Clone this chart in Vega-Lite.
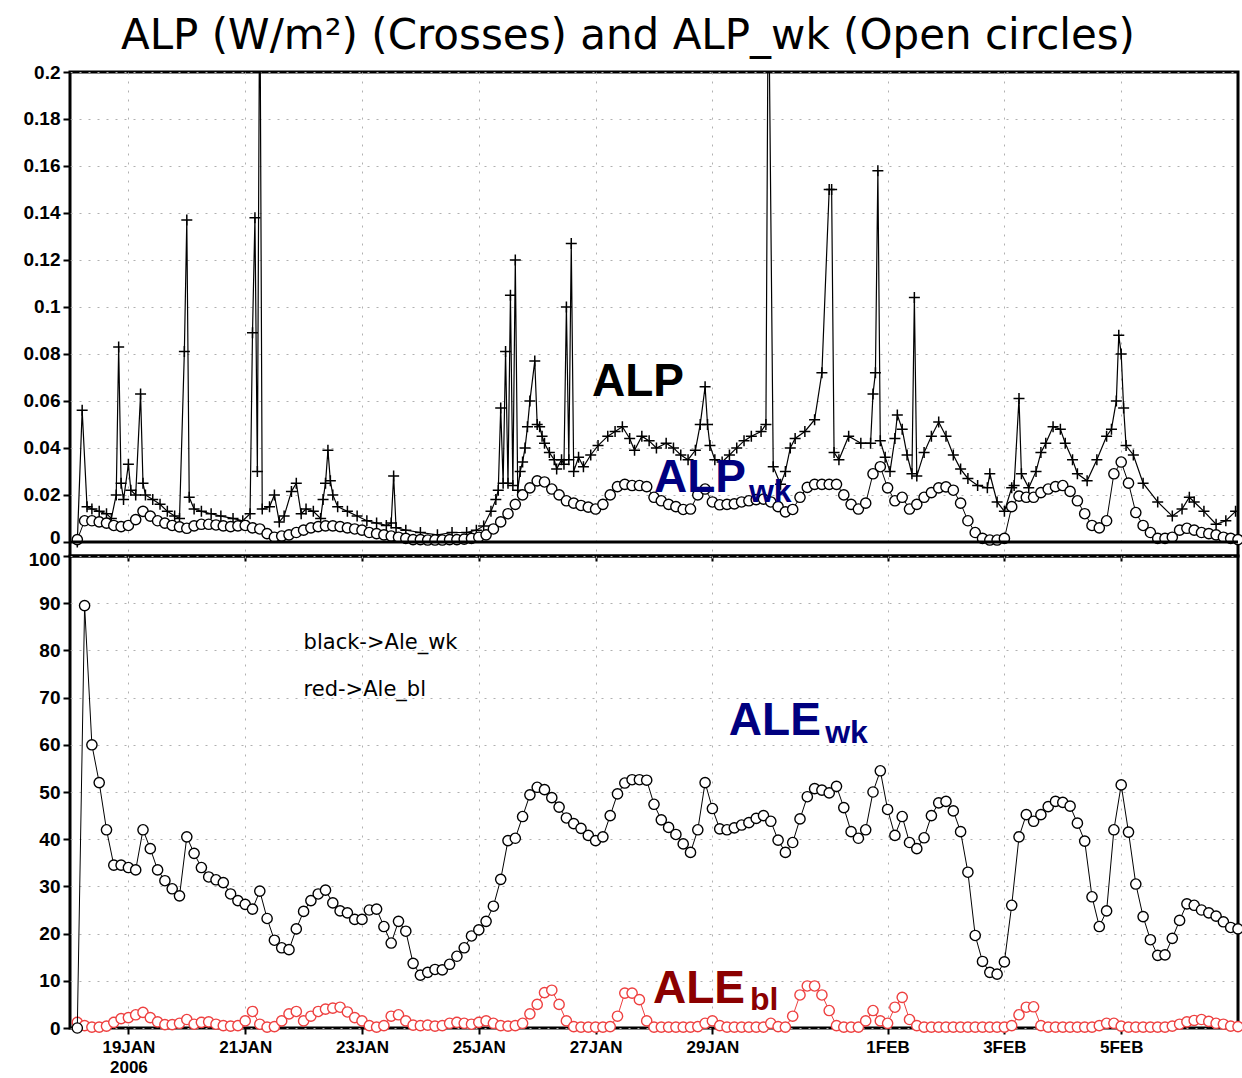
{
  "$schema": "https://vega.github.io/schema/vega-lite/v6.json",
  "padding": {"left": 8, "top": 14, "right": 6, "bottom": 0},
  "background": "white",
  "title": {"text": "ALP (W/m²) (Crosses) and ALP_wk (Open circles)", "font": "DejaVu Sans", "fontSize": 42, "fontWeight": "normal", "color": "black", "anchor": "middle", "offset": 4},
  "bounds": "flush",
  "spacing": 0,
  "config": {
    "view": {"stroke": "black", "strokeWidth": 3},
    "axis": {"domain": false, "tickColor": "black", "tickWidth": 2, "tickSize": 7, "labelFont": "Liberation Sans", "labelFontWeight": "bold", "labelFontSize": 17, "labelColor": "black", "labelPadding": 3, "gridColor": "#b0b0b0", "gridDash": [2, 7], "gridWidth": 1},
    "axisY": {"labelFontSize": 19}
  },
  "datasets": {
    "wk": [
{"t":"2006-01-18T03:00","w":0.001,"e":0,"b":1.2},
{"t":"2006-01-18T06:00","w":0.009,"e":89.5,"b":0.5},
{"t":"2006-01-18T09:00","w":0.009,"e":60,"b":0.2},
{"t":"2006-01-18T12:00","w":0.0085,"e":52,"b":0.2},
{"t":"2006-01-18T15:00","w":0.008,"e":42,"b":0.4},
{"t":"2006-01-18T18:00","w":0.007,"e":34.5,"b":1.2},
{"t":"2006-01-18T21:00","w":0.0065,"e":34.5,"b":2},
{"t":"2006-01-19T00:00","w":0.007,"e":34,"b":2.2},
{"t":"2006-01-19T03:00","w":0.0095,"e":33.5,"b":2.8},
{"t":"2006-01-19T06:00","w":0.013,"e":42,"b":3.3},
{"t":"2006-01-19T09:00","w":0.011,"e":38,"b":2.2},
{"t":"2006-01-19T12:00","w":0.009,"e":33.5,"b":1.3},
{"t":"2006-01-19T15:00","w":0.008,"e":31.2,"b":0.7},
{"t":"2006-01-19T18:00","w":0.007,"e":29.5,"b":0.7},
{"t":"2006-01-19T21:00","w":0.0064,"e":28,"b":1},
{"t":"2006-01-20T00:00","w":0.0058,"e":40.5,"b":1.8},
{"t":"2006-01-20T03:00","w":0.0068,"e":37,"b":0.8},
{"t":"2006-01-20T06:00","w":0.0075,"e":34,"b":1.2},
{"t":"2006-01-20T09:00","w":0.0075,"e":32,"b":1.3},
{"t":"2006-01-20T12:00","w":0.0072,"e":31.4,"b":0.8},
{"t":"2006-01-20T15:00","w":0.0068,"e":30.8,"b":0.5},
{"t":"2006-01-20T18:00","w":0.0065,"e":28.4,"b":0.4},
{"t":"2006-01-20T21:00","w":0.0068,"e":27,"b":0.5},
{"t":"2006-01-21T00:00","w":0.007,"e":26.2,"b":1.5},
{"t":"2006-01-21T03:00","w":0.006,"e":25.2,"b":3.5},
{"t":"2006-01-21T06:00","w":0.0055,"e":29,"b":0.8},
{"t":"2006-01-21T09:00","w":0.0035,"e":23.2,"b":0.2},
{"t":"2006-01-21T12:00","w":0.002,"e":18.6,"b":0.3},
{"t":"2006-01-21T15:00","w":0.0025,"e":17,"b":1.5},
{"t":"2006-01-21T18:00","w":0.003,"e":16.6,"b":3},
{"t":"2006-01-21T21:00","w":0.004,"e":21,"b":3.5},
{"t":"2006-01-22T00:00","w":0.005,"e":24.7,"b":1.5},
{"t":"2006-01-22T03:00","w":0.006,"e":27,"b":2.5},
{"t":"2006-01-22T06:00","w":0.0065,"e":28.4,"b":3.5},
{"t":"2006-01-22T09:00","w":0.0068,"e":29.2,"b":4},
{"t":"2006-01-22T12:00","w":0.0068,"e":26.5,"b":4.2},
{"t":"2006-01-22T15:00","w":0.0065,"e":24.8,"b":4.4},
{"t":"2006-01-22T18:00","w":0.006,"e":24.4,"b":3.4},
{"t":"2006-01-22T21:00","w":0.0055,"e":23,"b":2.2},
{"t":"2006-01-23T00:00","w":0.005,"e":23,"b":1.5},
{"t":"2006-01-23T03:00","w":0.004,"e":25,"b":0.5},
{"t":"2006-01-23T06:00","w":0.0035,"e":25.2,"b":0.2},
{"t":"2006-01-23T09:00","w":0.003,"e":21.5,"b":0.5},
{"t":"2006-01-23T12:00","w":0.0025,"e":18,"b":2.5},
{"t":"2006-01-23T15:00","w":0.002,"e":22.6,"b":2.8},
{"t":"2006-01-23T18:00","w":0.0015,"e":20.5,"b":1.5},
{"t":"2006-01-23T21:00","w":0.001,"e":13.7,"b":0.6},
{"t":"2006-01-24T00:00","w":0.001,"e":11.2,"b":0.5},
{"t":"2006-01-24T03:00","w":0.0008,"e":11.8,"b":0.6},
{"t":"2006-01-24T06:00","w":0.0008,"e":12.4,"b":0.4},
{"t":"2006-01-24T09:00","w":0.0008,"e":12.3,"b":0.5},
{"t":"2006-01-24T12:00","w":0.001,"e":13.5,"b":1},
{"t":"2006-01-24T15:00","w":0.001,"e":15.2,"b":1.2},
{"t":"2006-01-24T18:00","w":0.0012,"e":17,"b":1},
{"t":"2006-01-24T21:00","w":0.0015,"e":19.5,"b":0.8},
{"t":"2006-01-25T00:00","w":0.002,"e":20.8,"b":1.2},
{"t":"2006-01-25T03:00","w":0.003,"e":22.6,"b":1.5},
{"t":"2006-01-25T06:00","w":0.0055,"e":25.8,"b":1},
{"t":"2006-01-25T09:00","w":0.0085,"e":31.5,"b":0.5},
{"t":"2006-01-25T12:00","w":0.012,"e":39.7,"b":0.4},
{"t":"2006-01-25T15:00","w":0.016,"e":40.2,"b":0.5},
{"t":"2006-01-25T18:00","w":0.02,"e":44.8,"b":1},
{"t":"2006-01-25T21:00","w":0.023,"e":49.4,"b":3},
{"t":"2006-01-26T00:00","w":0.026,"e":51,"b":5},
{"t":"2006-01-26T03:00","w":0.0255,"e":50.5,"b":7.5},
{"t":"2006-01-26T06:00","w":0.0225,"e":48.8,"b":8},
{"t":"2006-01-26T09:00","w":0.02,"e":46.8,"b":5},
{"t":"2006-01-26T12:00","w":0.0175,"e":44.5,"b":1.5},
{"t":"2006-01-26T15:00","w":0.0165,"e":43.3,"b":0.3},
{"t":"2006-01-26T18:00","w":0.0155,"e":42.3,"b":0.2},
{"t":"2006-01-26T21:00","w":0.0148,"e":40.8,"b":0.2},
{"t":"2006-01-27T00:00","w":0.014,"e":39.7,"b":0.2},
{"t":"2006-01-27T03:00","w":0.016,"e":40.5,"b":0.2},
{"t":"2006-01-27T06:00","w":0.02,"e":45,"b":0.3},
{"t":"2006-01-27T09:00","w":0.0235,"e":49.6,"b":2.5},
{"t":"2006-01-27T12:00","w":0.0245,"e":51.9,"b":7.4},
{"t":"2006-01-27T15:00","w":0.024,"e":52.6,"b":7.4},
{"t":"2006-01-27T18:00","w":0.024,"e":52.6,"b":6},
{"t":"2006-01-27T21:00","w":0.0235,"e":52.5,"b":1.5},
{"t":"2006-01-28T00:00","w":0.019,"e":47.4,"b":0.2},
{"t":"2006-01-28T03:00","w":0.0175,"e":44.1,"b":0.2},
{"t":"2006-01-28T06:00","w":0.016,"e":42.5,"b":0.2},
{"t":"2006-01-28T09:00","w":0.015,"e":41,"b":0.2},
{"t":"2006-01-28T12:00","w":0.0138,"e":39,"b":0.2},
{"t":"2006-01-28T15:00","w":0.014,"e":37.2,"b":0.2},
{"t":"2006-01-28T18:00","w":0.02,"e":42,"b":0.3},
{"t":"2006-01-28T21:00","w":0.0225,"e":52,"b":1},
{"t":"2006-01-29T00:00","w":0.017,"e":46.5,"b":1.5},
{"t":"2006-01-29T03:00","w":0.0158,"e":42.2,"b":0.5},
{"t":"2006-01-29T06:00","w":0.016,"e":42,"b":0.2},
{"t":"2006-01-29T09:00","w":0.0162,"e":42.4,"b":0.2},
{"t":"2006-01-29T12:00","w":0.017,"e":43,"b":0.2},
{"t":"2006-01-29T15:00","w":0.0175,"e":43.5,"b":0.2},
{"t":"2006-01-29T18:00","w":0.018,"e":44.4,"b":0.2},
{"t":"2006-01-29T21:00","w":0.0182,"e":45,"b":0.2},
{"t":"2006-01-30T00:00","w":0.017,"e":43.8,"b":1},
{"t":"2006-01-30T03:00","w":0.015,"e":39.8,"b":0.3},
{"t":"2006-01-30T06:00","w":0.0128,"e":37.2,"b":0.2},
{"t":"2006-01-30T09:00","w":0.0138,"e":39.3,"b":2.5},
{"t":"2006-01-30T12:00","w":0.019,"e":44.3,"b":7},
{"t":"2006-01-30T15:00","w":0.0232,"e":49,"b":8.9},
{"t":"2006-01-30T18:00","w":0.0245,"e":50.7,"b":8.9},
{"t":"2006-01-30T21:00","w":0.0245,"e":50.4,"b":7},
{"t":"2006-01-31T00:00","w":0.0245,"e":49.8,"b":3.7},
{"t":"2006-01-31T03:00","w":0.0245,"e":51.2,"b":0.5},
{"t":"2006-01-31T06:00","w":0.02,"e":46.7,"b":0.2},
{"t":"2006-01-31T09:00","w":0.016,"e":41.6,"b":0.2},
{"t":"2006-01-31T12:00","w":0.014,"e":40.2,"b":0.2},
{"t":"2006-01-31T15:00","w":0.0165,"e":42,"b":1.5},
{"t":"2006-01-31T18:00","w":0.029,"e":50,"b":3.7},
{"t":"2006-01-31T21:00","w":0.032,"e":54.5,"b":1.5},
{"t":"2006-02-01T00:00","w":0.023,"e":46.3,"b":1},
{"t":"2006-02-01T03:00","w":0.0175,"e":40.8,"b":4.4},
{"t":"2006-02-01T06:00","w":0.019,"e":44.8,"b":6.5},
{"t":"2006-02-01T09:00","w":0.014,"e":39.3,"b":1.8},
{"t":"2006-02-01T12:00","w":0.016,"e":38,"b":0.5},
{"t":"2006-02-01T15:00","w":0.019,"e":40.3,"b":0.2},
{"t":"2006-02-01T18:00","w":0.021,"e":45,"b":0.2},
{"t":"2006-02-01T21:00","w":0.023,"e":47.7,"b":0.2},
{"t":"2006-02-02T00:00","w":0.0234,"e":48,"b":0.2},
{"t":"2006-02-02T03:00","w":0.022,"e":46,"b":0.2},
{"t":"2006-02-02T06:00","w":0.0165,"e":41.6,"b":0.2},
{"t":"2006-02-02T09:00","w":0.009,"e":33,"b":0.2},
{"t":"2006-02-02T12:00","w":0.004,"e":19.6,"b":0.2},
{"t":"2006-02-02T15:00","w":0.0015,"e":14.1,"b":0.2},
{"t":"2006-02-02T18:00","w":0.0008,"e":11.8,"b":0.2},
{"t":"2006-02-02T21:00","w":0.0008,"e":11.4,"b":0.2},
{"t":"2006-02-03T00:00","w":0.0015,"e":14,"b":0.2},
{"t":"2006-02-03T03:00","w":0.015,"e":26,"b":0.5},
{"t":"2006-02-03T06:00","w":0.0195,"e":40.5,"b":2.8},
{"t":"2006-02-03T09:00","w":0.019,"e":45.2,"b":4.4},
{"t":"2006-02-03T12:00","w":0.019,"e":43.8,"b":4.5},
{"t":"2006-02-03T15:00","w":0.021,"e":45.2,"b":0.5},
{"t":"2006-02-03T18:00","w":0.0225,"e":46.9,"b":0.2},
{"t":"2006-02-03T21:00","w":0.0235,"e":48,"b":0.2},
{"t":"2006-02-04T00:00","w":0.024,"e":47.8,"b":0.2},
{"t":"2006-02-04T03:00","w":0.0215,"e":47,"b":0.2},
{"t":"2006-02-04T06:00","w":0.0175,"e":43.4,"b":0.2},
{"t":"2006-02-04T09:00","w":0.012,"e":39.6,"b":0.2},
{"t":"2006-02-04T12:00","w":0.007,"e":27.8,"b":0.2},
{"t":"2006-02-04T15:00","w":0.006,"e":21.5,"b":0.5},
{"t":"2006-02-04T18:00","w":0.009,"e":24.8,"b":1},
{"t":"2006-02-04T21:00","w":0.029,"e":42,"b":1},
{"t":"2006-02-05T00:00","w":0.034,"e":51.5,"b":0.4},
{"t":"2006-02-05T03:00","w":0.025,"e":41.5,"b":0.2},
{"t":"2006-02-05T06:00","w":0.0125,"e":30.5,"b":0.2},
{"t":"2006-02-05T09:00","w":0.007,"e":23.6,"b":0.2},
{"t":"2006-02-05T12:00","w":0.004,"e":18.7,"b":0.2},
{"t":"2006-02-05T15:00","w":0.0015,"e":15.4,"b":0.2},
{"t":"2006-02-05T18:00","w":0.0015,"e":15.5,"b":0.2},
{"t":"2006-02-05T21:00","w":0.002,"e":19,"b":0.4},
{"t":"2006-02-06T00:00","w":0.005,"e":22.8,"b":0.8},
{"t":"2006-02-06T03:00","w":0.0058,"e":26.3,"b":1.3},
{"t":"2006-02-06T06:00","w":0.005,"e":26,"b":1.6},
{"t":"2006-02-06T09:00","w":0.004,"e":25,"b":1.8},
{"t":"2006-02-06T12:00","w":0.0035,"e":24.4,"b":1.4},
{"t":"2006-02-06T15:00","w":0.003,"e":23.7,"b":1},
{"t":"2006-02-06T18:00","w":0.002,"e":22.5,"b":0.8},
{"t":"2006-02-06T21:00","w":0.0015,"e":21.3,"b":0.4},
{"t":"2006-02-07T00:00","w":0.001,"e":21,"b":0.3}
    ],
    "alp": [
{"t":"2006-01-18T03:00","v":0},
{"t":"2006-01-18T05:00","v":0.056},
{"t":"2006-01-18T07:00","v":0.015},
{"t":"2006-01-18T09:00","v":0.014},
{"t":"2006-01-18T12:00","v":0.013},
{"t":"2006-01-18T15:00","v":0.012},
{"t":"2006-01-18T17:00","v":0.01},
{"t":"2006-01-18T19:00","v":0.02},
{"t":"2006-01-18T20:00","v":0.083},
{"t":"2006-01-18T21:00","v":0.025},
{"t":"2006-01-18T22:00","v":0.018},
{"t":"2006-01-19T00:00","v":0.033},
{"t":"2006-01-19T01:00","v":0.022},
{"t":"2006-01-19T03:00","v":0.02},
{"t":"2006-01-19T05:00","v":0.063},
{"t":"2006-01-19T06:00","v":0.025},
{"t":"2006-01-19T07:00","v":0.02},
{"t":"2006-01-19T10:00","v":0.018},
{"t":"2006-01-19T13:00","v":0.016},
{"t":"2006-01-19T16:00","v":0.013},
{"t":"2006-01-19T19:00","v":0.011},
{"t":"2006-01-19T21:00","v":0.01},
{"t":"2006-01-19T23:00","v":0.081},
{"t":"2006-01-20T00:00","v":0.137},
{"t":"2006-01-20T01:00","v":0.019},
{"t":"2006-01-20T03:00","v":0.014},
{"t":"2006-01-20T06:00","v":0.013},
{"t":"2006-01-20T10:00","v":0.012},
{"t":"2006-01-20T14:00","v":0.011},
{"t":"2006-01-20T19:00","v":0.01},
{"t":"2006-01-20T23:00","v":0.009},
{"t":"2006-01-21T02:00","v":0.012},
{"t":"2006-01-21T03:00","v":0.089},
{"t":"2006-01-21T04:00","v":0.138},
{"t":"2006-01-21T05:00","v":0.03},
{"t":"2006-01-21T06:00","v":0.25},
{"t":"2006-01-21T07:00","v":0.014},
{"t":"2006-01-21T10:00","v":0.015},
{"t":"2006-01-21T12:00","v":0.02},
{"t":"2006-01-21T14:00","v":0.0085},
{"t":"2006-01-21T16:00","v":0.011},
{"t":"2006-01-21T19:00","v":0.0215},
{"t":"2006-01-21T21:00","v":0.025},
{"t":"2006-01-21T23:00","v":0.012},
{"t":"2006-01-22T01:00","v":0.014},
{"t":"2006-01-22T04:00","v":0.013},
{"t":"2006-01-22T07:00","v":0.01},
{"t":"2006-01-22T08:00","v":0.018},
{"t":"2006-01-22T09:00","v":0.025},
{"t":"2006-01-22T10:00","v":0.039},
{"t":"2006-01-22T11:00","v":0.026},
{"t":"2006-01-22T12:00","v":0.02},
{"t":"2006-01-22T14:00","v":0.015},
{"t":"2006-01-22T18:00","v":0.013},
{"t":"2006-01-22T22:00","v":0.011},
{"t":"2006-01-23T02:00","v":0.009},
{"t":"2006-01-23T06:00","v":0.008},
{"t":"2006-01-23T10:00","v":0.007},
{"t":"2006-01-23T12:00","v":0.008},
{"t":"2006-01-23T13:00","v":0.028},
{"t":"2006-01-23T14:00","v":0.006},
{"t":"2006-01-23T18:00","v":0.005},
{"t":"2006-01-24T00:00","v":0.004},
{"t":"2006-01-24T07:00","v":0.003},
{"t":"2006-01-24T13:00","v":0.004},
{"t":"2006-01-24T19:00","v":0.004},
{"t":"2006-01-24T23:00","v":0.005},
{"t":"2006-01-25T02:00","v":0.0068},
{"t":"2006-01-25T05:00","v":0.013},
{"t":"2006-01-25T07:00","v":0.018},
{"t":"2006-01-25T08:00","v":0.022},
{"t":"2006-01-25T09:00","v":0.057},
{"t":"2006-01-25T10:00","v":0.025},
{"t":"2006-01-25T11:00","v":0.081},
{"t":"2006-01-25T12:00","v":0.025},
{"t":"2006-01-25T13:00","v":0.105},
{"t":"2006-01-25T14:00","v":0.024},
{"t":"2006-01-25T15:00","v":0.12},
{"t":"2006-01-25T16:00","v":0.022},
{"t":"2006-01-25T17:00","v":0.03},
{"t":"2006-01-25T18:00","v":0.034},
{"t":"2006-01-25T19:00","v":0.04},
{"t":"2006-01-25T20:00","v":0.049},
{"t":"2006-01-25T21:00","v":0.06},
{"t":"2006-01-25T23:00","v":0.077},
{"t":"2006-01-26T00:00","v":0.05},
{"t":"2006-01-26T01:00","v":0.049},
{"t":"2006-01-26T02:00","v":0.045},
{"t":"2006-01-26T03:00","v":0.042},
{"t":"2006-01-26T05:00","v":0.038},
{"t":"2006-01-26T07:00","v":0.035},
{"t":"2006-01-26T08:00","v":0.031},
{"t":"2006-01-26T10:00","v":0.035},
{"t":"2006-01-26T11:00","v":0.033},
{"t":"2006-01-26T12:00","v":0.1},
{"t":"2006-01-26T13:00","v":0.035},
{"t":"2006-01-26T14:00","v":0.127},
{"t":"2006-01-26T15:00","v":0.03},
{"t":"2006-01-26T17:00","v":0.036},
{"t":"2006-01-26T19:00","v":0.032},
{"t":"2006-01-26T22:00","v":0.037},
{"t":"2006-01-27T01:00","v":0.041},
{"t":"2006-01-27T05:00","v":0.045},
{"t":"2006-01-27T08:00","v":0.047},
{"t":"2006-01-27T11:00","v":0.049},
{"t":"2006-01-27T14:00","v":0.044},
{"t":"2006-01-27T16:00","v":0.039},
{"t":"2006-01-27T19:00","v":0.045},
{"t":"2006-01-27T22:00","v":0.043},
{"t":"2006-01-28T01:00","v":0.04},
{"t":"2006-01-28T05:00","v":0.042},
{"t":"2006-01-28T08:00","v":0.04},
{"t":"2006-01-28T11:00","v":0.037},
{"t":"2006-01-28T14:00","v":0.035},
{"t":"2006-01-28T17:00","v":0.039},
{"t":"2006-01-28T19:00","v":0.05},
{"t":"2006-01-28T21:00","v":0.066},
{"t":"2006-01-28T22:00","v":0.05},
{"t":"2006-01-28T23:00","v":0.041},
{"t":"2006-01-29T01:00","v":0.035},
{"t":"2006-01-29T04:00","v":0.034},
{"t":"2006-01-29T07:00","v":0.037},
{"t":"2006-01-29T10:00","v":0.04},
{"t":"2006-01-29T13:00","v":0.043},
{"t":"2006-01-29T16:00","v":0.045},
{"t":"2006-01-29T20:00","v":0.047},
{"t":"2006-01-29T22:00","v":0.05},
{"t":"2006-01-29T23:00","v":0.25},
{"t":"2006-01-30T01:00","v":0.032},
{"t":"2006-01-30T04:00","v":0.0245},
{"t":"2006-01-30T06:00","v":0.03},
{"t":"2006-01-30T08:00","v":0.04},
{"t":"2006-01-30T10:00","v":0.044},
{"t":"2006-01-30T14:00","v":0.047},
{"t":"2006-01-30T18:00","v":0.052},
{"t":"2006-01-30T21:00","v":0.072},
{"t":"2006-01-31T00:00","v":0.15},
{"t":"2006-01-31T01:00","v":0.15},
{"t":"2006-01-31T02:00","v":0.038},
{"t":"2006-01-31T04:00","v":0.035},
{"t":"2006-01-31T08:00","v":0.045},
{"t":"2006-01-31T13:00","v":0.042},
{"t":"2006-01-31T17:00","v":0.042},
{"t":"2006-01-31T18:00","v":0.063},
{"t":"2006-01-31T19:00","v":0.072},
{"t":"2006-01-31T20:00","v":0.158},
{"t":"2006-01-31T21:00","v":0.043},
{"t":"2006-01-31T23:00","v":0.036},
{"t":"2006-02-01T01:00","v":0.03},
{"t":"2006-02-01T03:00","v":0.044},
{"t":"2006-02-01T04:00","v":0.054},
{"t":"2006-02-01T06:00","v":0.048},
{"t":"2006-02-01T08:00","v":0.037},
{"t":"2006-02-01T10:00","v":0.029},
{"t":"2006-02-01T11:00","v":0.104},
{"t":"2006-02-01T12:00","v":0.028},
{"t":"2006-02-01T15:00","v":0.038},
{"t":"2006-02-01T18:00","v":0.045},
{"t":"2006-02-01T21:00","v":0.051},
{"t":"2006-02-02T00:00","v":0.045},
{"t":"2006-02-02T03:00","v":0.037},
{"t":"2006-02-02T06:00","v":0.031},
{"t":"2006-02-02T09:00","v":0.027},
{"t":"2006-02-02T13:00","v":0.024},
{"t":"2006-02-02T17:00","v":0.023},
{"t":"2006-02-02T18:00","v":0.029},
{"t":"2006-02-02T21:00","v":0.017},
{"t":"2006-02-03T00:00","v":0.013},
{"t":"2006-02-03T03:00","v":0.023},
{"t":"2006-02-03T04:00","v":0.024},
{"t":"2006-02-03T06:00","v":0.061},
{"t":"2006-02-03T07:00","v":0.029},
{"t":"2006-02-03T10:00","v":0.023},
{"t":"2006-02-03T13:00","v":0.03},
{"t":"2006-02-03T15:00","v":0.038},
{"t":"2006-02-03T17:00","v":0.042},
{"t":"2006-02-03T20:00","v":0.049},
{"t":"2006-02-03T23:00","v":0.048},
{"t":"2006-02-04T01:00","v":0.042},
{"t":"2006-02-04T04:00","v":0.035},
{"t":"2006-02-04T06:00","v":0.029},
{"t":"2006-02-04T10:00","v":0.026},
{"t":"2006-02-04T14:00","v":0.035},
{"t":"2006-02-04T18:00","v":0.045},
{"t":"2006-02-04T20:00","v":0.048},
{"t":"2006-02-04T22:00","v":0.06},
{"t":"2006-02-04T23:00","v":0.088},
{"t":"2006-02-05T00:00","v":0.08},
{"t":"2006-02-05T01:00","v":0.057},
{"t":"2006-02-05T02:00","v":0.041},
{"t":"2006-02-05T05:00","v":0.037},
{"t":"2006-02-05T09:00","v":0.025},
{"t":"2006-02-05T15:00","v":0.017},
{"t":"2006-02-05T21:00","v":0.011},
{"t":"2006-02-06T01:00","v":0.014},
{"t":"2006-02-06T04:00","v":0.019},
{"t":"2006-02-06T06:00","v":0.017},
{"t":"2006-02-06T10:00","v":0.013},
{"t":"2006-02-06T15:00","v":0.0075},
{"t":"2006-02-06T19:00","v":0.009},
{"t":"2006-02-06T23:00","v":0.013}
    ]
  },
  "vconcat": [
    {
      "width": 1168,
      "height": 484,
      "layer": [
        {
          "data": {"name": "alp"},
          "mark": {"type": "line", "color": "black", "strokeWidth": 1.2, "clip": true},
          "encoding": {
            "x": {"field": "t", "type": "temporal", "scale": {"domain": [{"year": 2006, "month": 1, "date": 18}, {"year": 2006, "month": 2, "date": 7}]},
                  "axis": {"title": null, "labels": false, "grid": true, "tickSize": 5,
                           "values": [{"year": 2006, "month": 1, "date": 19}, {"year": 2006, "month": 1, "date": 21}, {"year": 2006, "month": 1, "date": 23}, {"year": 2006, "month": 1, "date": 25}, {"year": 2006, "month": 1, "date": 27}, {"year": 2006, "month": 1, "date": 29}, {"year": 2006, "month": 2, "date": 1}, {"year": 2006, "month": 2, "date": 3}, {"year": 2006, "month": 2, "date": 5}]}},
            "y": {"field": "v", "type": "quantitative", "scale": {"domain": [-0.006, 0.2], "nice": false, "zero": false},
                  "axis": {"title": null, "grid": true, "format": "~g", "minExtent": 60, "maxExtent": 60,
                           "labelOffset": {"condition": {"test": "datum.value == 0", "value": -4}, "value": 0},
                           "values": [0, 0.02, 0.04, 0.06, 0.08, 0.1, 0.12, 0.14, 0.16, 0.18, 0.2]}}
          }
        },
        {
          "data": {"name": "alp"},
          "mark": {"type": "point", "shape": "M-1,0H1M0,-1V1", "filled": false, "stroke": "black", "strokeWidth": 1.5, "size": 121, "opacity": 1, "clip": true},
          "encoding": {
            "x": {"field": "t", "type": "temporal"},
            "y": {"field": "v", "type": "quantitative"}
          }
        },
        {
          "data": {"name": "wk"},
          "mark": {"type": "line", "color": "black", "strokeWidth": 1},
          "encoding": {
            "x": {"field": "t", "type": "temporal"},
            "y": {"field": "w", "type": "quantitative"}
          }
        },
        {
          "data": {"name": "wk"},
          "mark": {"type": "point", "shape": "circle", "filled": true, "fill": "white", "stroke": "black", "strokeWidth": 1.4, "size": 105, "opacity": 1},
          "encoding": {
            "x": {"field": "t", "type": "temporal"},
            "y": {"field": "w", "type": "quantitative"}
          }
        },
        {
          "data": {"values": [{"z": 0}]},
          "mark": {"type": "rule", "color": "black", "strokeWidth": 3},
          "encoding": {"y": {"field": "z", "type": "quantitative"}}
        },
        {
          "data": {"values": [{"t": "2006-01-26T22:30", "v": 0.0621, "label": "ALP"}]},
          "mark": {"type": "text", "align": "left", "baseline": "alphabetic", "font": "Liberation Sans", "fontWeight": "bold", "fontSize": 46, "color": "black"},
          "encoding": {
            "x": {"field": "t", "type": "temporal"},
            "y": {"field": "v", "type": "quantitative"},
            "text": {"field": "label"}
          }
        },
        {
          "data": {"values": [{"t": "2006-01-28T00:00", "v": 0.0213, "label": "ALP"}]},
          "mark": {"type": "text", "align": "left", "baseline": "alphabetic", "font": "Liberation Sans", "fontWeight": "bold", "fontSize": 46, "color": "#00007f"},
          "encoding": {
            "x": {"field": "t", "type": "temporal"},
            "y": {"field": "v", "type": "quantitative"},
            "text": {"field": "label"}
          }
        },
        {
          "data": {"values": [{"t": "2006-01-29T15:00", "v": 0.017, "label": "wk"}]},
          "mark": {"type": "text", "align": "left", "baseline": "alphabetic", "font": "Liberation Sans", "fontWeight": "bold", "fontSize": 32, "color": "#00007f"},
          "encoding": {
            "x": {"field": "t", "type": "temporal"},
            "y": {"field": "v", "type": "quantitative"},
            "text": {"field": "label"}
          }
        }
      ]
    },
    {
      "width": 1168,
      "height": 472,
      "layer": [
        {
          "data": {"name": "wk"},
          "mark": {"type": "line", "color": "#ee4040", "strokeWidth": 1},
          "encoding": {
            "x": {"field": "t", "type": "temporal", "scale": {"domain": [{"year": 2006, "month": 1, "date": 18}, {"year": 2006, "month": 2, "date": 7}]},
                  "axis": {"title": null, "grid": true, "tickSize": 6, "labelLineHeight": 20, "labelPadding": 5,
                           "labelExpr": "(month(datum.value) == 0 && date(datum.value) == 19) ? ['19JAN', '2006'] : upper(timeFormat(datum.value, '%-d%b'))",
                           "values": [{"year": 2006, "month": 1, "date": 19}, {"year": 2006, "month": 1, "date": 21}, {"year": 2006, "month": 1, "date": 23}, {"year": 2006, "month": 1, "date": 25}, {"year": 2006, "month": 1, "date": 27}, {"year": 2006, "month": 1, "date": 29}, {"year": 2006, "month": 2, "date": 1}, {"year": 2006, "month": 2, "date": 3}, {"year": 2006, "month": 2, "date": 5}]}},
            "y": {"field": "b", "type": "quantitative", "scale": {"domain": [0, 100], "nice": false, "zero": false},
                  "axis": {"title": null, "grid": true, "minExtent": 60, "maxExtent": 60,
                           "labelOffset": {"condition": {"test": "datum.value == 100", "value": 3}, "value": 0},
                           "values": [0, 10, 20, 30, 40, 50, 60, 70, 80, 90, 100]}}
          }
        },
        {
          "data": {"name": "wk"},
          "mark": {"type": "point", "shape": "circle", "filled": true, "fill": "white", "stroke": "#ee4040", "strokeWidth": 1.4, "size": 105, "opacity": 1},
          "encoding": {
            "x": {"field": "t", "type": "temporal"},
            "y": {"field": "b", "type": "quantitative"}
          }
        },
        {
          "data": {"name": "wk"},
          "mark": {"type": "line", "color": "black", "strokeWidth": 1},
          "encoding": {
            "x": {"field": "t", "type": "temporal"},
            "y": {"field": "e", "type": "quantitative"}
          }
        },
        {
          "data": {"name": "wk"},
          "mark": {"type": "point", "shape": "circle", "filled": true, "fill": "white", "stroke": "black", "strokeWidth": 1.4, "size": 105, "opacity": 1},
          "encoding": {
            "x": {"field": "t", "type": "temporal"},
            "y": {"field": "e", "type": "quantitative"}
          }
        },
        {
          "data": {"values": [{"t": "2006-01-22T00:00", "v": 81.6, "label": "black->Ale_wk"}, {"t": "2006-01-22T00:00", "v": 71.6, "label": "red->Ale_bl"}]},
          "mark": {"type": "text", "align": "left", "baseline": "middle", "font": "DejaVu Sans", "fontSize": 21, "color": "black"},
          "encoding": {
            "x": {"field": "t", "type": "temporal"},
            "y": {"field": "v", "type": "quantitative"},
            "text": {"field": "label"}
          }
        },
        {
          "data": {"values": [{"t": "2006-01-29T06:45", "v": 62.1, "label": "ALE"}]},
          "mark": {"type": "text", "align": "left", "baseline": "alphabetic", "font": "Liberation Sans", "fontWeight": "bold", "fontSize": 46, "color": "#00007f"},
          "encoding": {
            "x": {"field": "t", "type": "temporal"},
            "y": {"field": "v", "type": "quantitative"},
            "text": {"field": "label"}
          }
        },
        {
          "data": {"values": [{"t": "2006-01-30T22:20", "v": 60.4, "label": "wk"}]},
          "mark": {"type": "text", "align": "left", "baseline": "alphabetic", "font": "Liberation Sans", "fontWeight": "bold", "fontSize": 32, "color": "#00007f"},
          "encoding": {
            "x": {"field": "t", "type": "temporal"},
            "y": {"field": "v", "type": "quantitative"},
            "text": {"field": "label"}
          }
        },
        {
          "data": {"values": [{"t": "2006-01-27T23:35", "v": 5.3, "label": "ALE"}]},
          "mark": {"type": "text", "align": "left", "baseline": "alphabetic", "font": "Liberation Sans", "fontWeight": "bold", "fontSize": 46, "color": "#8b0000"},
          "encoding": {
            "x": {"field": "t", "type": "temporal"},
            "y": {"field": "v", "type": "quantitative"},
            "text": {"field": "label"}
          }
        },
        {
          "data": {"values": [{"t": "2006-01-29T15:25", "v": 3.8, "label": "bl"}]},
          "mark": {"type": "text", "align": "left", "baseline": "alphabetic", "font": "Liberation Sans", "fontWeight": "bold", "fontSize": 32, "color": "#8b0000"},
          "encoding": {
            "x": {"field": "t", "type": "temporal"},
            "y": {"field": "v", "type": "quantitative"},
            "text": {"field": "label"}
          }
        }
      ]
    }
  ]
}
